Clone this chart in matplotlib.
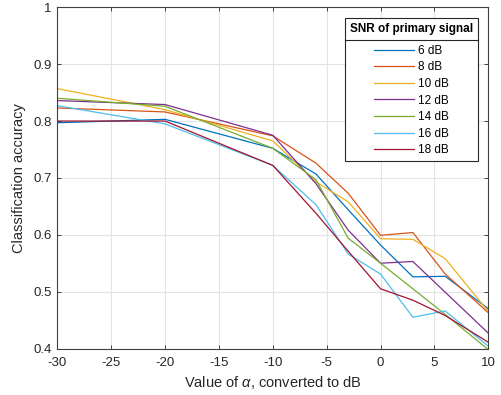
import matplotlib
matplotlib.use("Agg")
import matplotlib.pyplot as plt
from matplotlib.lines import Line2D

plt.rcParams['font.family'] = ['Liberation Sans', 'DejaVu Sans']
plt.rcParams['mathtext.fontset'] = 'custom'
plt.rcParams['mathtext.it'] = 'Liberation Sans:italic'
plt.rcParams['mathtext.rm'] = 'Liberation Sans'
plt.rcParams['axes.unicode_minus'] = False

alpha_db = [-30, -20, -10, -6, -3, 0, 3, 6, 10]
snr_labels = ['6 dB', '8 dB', '10 dB', '12 dB', '14 dB', '16 dB', '18 dB']
acc_6 = [0.797, 0.803, 0.752, 0.707, 0.644, 0.582, 0.526, 0.527, 0.470]
acc_8 = [0.823, 0.816, 0.774, 0.726, 0.673, 0.599, 0.604, 0.531, 0.463]
acc_10 = [0.857, 0.820, 0.765, 0.693, 0.658, 0.593, 0.592, 0.558, 0.465]
acc_12 = [0.836, 0.829, 0.775, 0.690, 0.608, 0.550, 0.553, 0.499, 0.427]
acc_14 = [0.840, 0.826, 0.752, 0.697, 0.594, 0.550, 0.505, 0.460, 0.398]
acc_16 = [0.827, 0.795, 0.722, 0.653, 0.566, 0.531, 0.455, 0.466, 0.404]
acc_18 = [0.800, 0.800, 0.722, 0.638, 0.571, 0.505, 0.485, 0.458, 0.411]
series = [acc_6, acc_8, acc_10, acc_12, acc_14, acc_16, acc_18]
colors = ['#0072BD', '#D95319', '#EDB120', '#7E2F8E', '#77AC30', '#4DBEEE', '#A2142F']

fig = plt.figure(figsize=(5.02, 3.95), dpi=100)
ax = fig.add_axes([0.1141, 0.1177, 0.8586, 0.8638])

for vals, c, lab in zip(series, colors, snr_labels):
    ax.plot(alpha_db, vals, color=c, lw=0.9, label=lab)

ax.set_xlim(-30, 10)
ax.set_ylim(0.4, 1.0)
ax.set_xticks(range(-30, 11, 5))
ax.set_yticks([0.4, 0.5, 0.6, 0.7, 0.8, 0.9, 1.0])
ax.set_yticklabels(['0.4', '0.5', '0.6', '0.7', '0.8', '0.9', '1'])
ax.grid(True, color='#e3e3e3', lw=0.8)
ax.set_axisbelow(True)
for s in ax.spines.values():
    s.set_color('#404040')
    s.set_linewidth(0.8)
ax.tick_params(direction='in', length=3, width=0.7, colors='#404040',
               labelcolor='#262626', labelsize=9.5, top=True, right=True)
ax.tick_params(axis='x', pad=6)
ax.tick_params(axis='y', pad=4)
ax.set_xlabel(r'Value of $\alpha$, converted to dB', fontsize=10.5, color='#262626', labelpad=4)
ax.set_ylabel('Classification accuracy', fontsize=10.5, color='#262626', labelpad=5)

leg = ax.legend(title='SNR of primary signal', loc='upper right',
                bbox_to_anchor=(478 / 502, (395 - 18.3) / 395), bbox_transform=fig.transFigure,
                fontsize=8.5, title_fontproperties={'weight': 'bold', 'size': 8.5},
                frameon=True, fancybox=False, edgecolor='#262626', framealpha=1,
                handlelength=3.4, handletextpad=0.35, labelspacing=0.39,
                borderpad=0.4, borderaxespad=0)
leg.get_frame().set_linewidth(0.8)
leg._legend_box.sep = 7

fig.canvas.draw()
r = fig.canvas.get_renderer()
fb = leg.get_frame().get_window_extent(r)
tb = leg.get_title().get_window_extent(r)
t0 = leg.get_texts()[0].get_window_extent(r)
yline = 0.5 * (tb.y0 + t0.y1)
inv = fig.transFigure.inverted()
(x0, y0) = inv.transform((fb.x0, yline))
(x1, _) = inv.transform((fb.x1, yline))
fig.add_artist(Line2D([x0, x1], [y0, y0], transform=fig.transFigure,
                      color='#262626', lw=0.8, zorder=10))

fig.savefig('out.png', dpi=100)
